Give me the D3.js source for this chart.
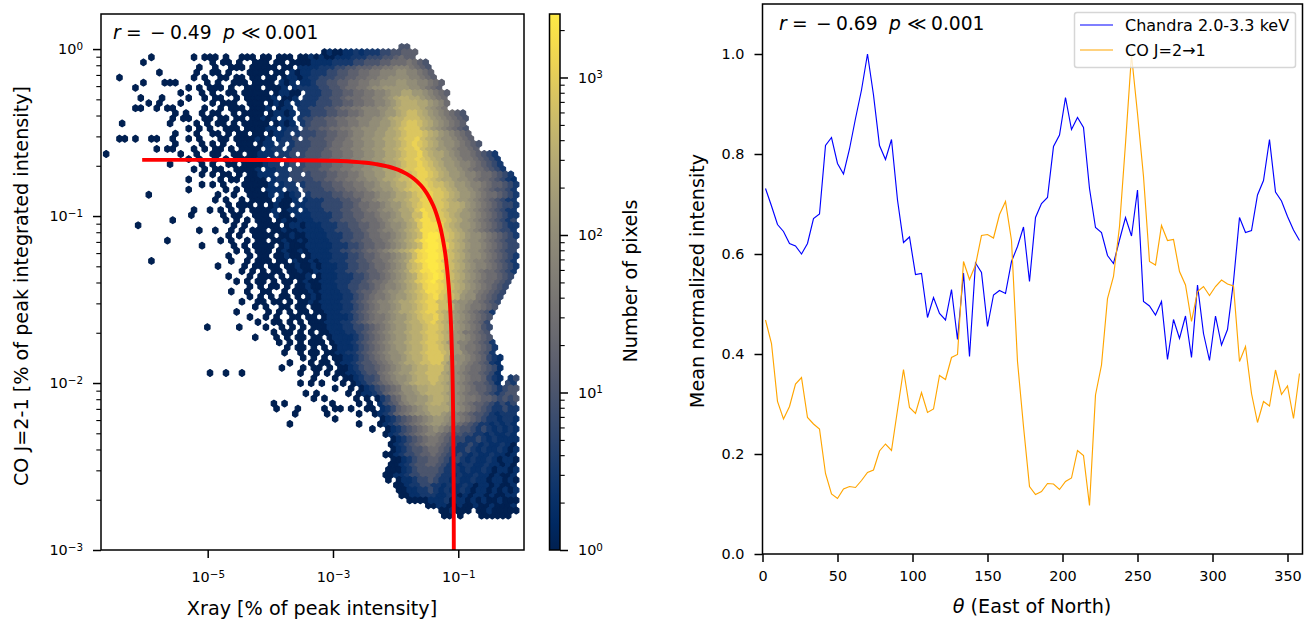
<!DOCTYPE html>
<html>
<head>
<meta charset="utf-8">
<script src="https://cdn.jsdelivr.net/npm/d3@7"></script>
<style>
  html, body { margin: 0; padding: 0; background: #fff; }
  svg { display: block; }
  text { font-family: "DejaVu Sans", sans-serif; fill: #000; }
  .domain, .tick line { stroke: #000; }
</style>
</head>
<body>
<svg id="chart" width="1310" height="622"></svg>
<script>
// per-degree profile, sampled every 4 deg
const angles = [2,6,10,14,18,22,26,30,34,38,42,46,50,54,58,62,66,70,74,78,82,86,90,94,98,102,106,110,114,118,122,126,130,134,138,142,146,150,154,158,162,166,170,174,178,182,186,190,194,198,202,206,210,214,218,222,226,230,234,238,242,246,250,254,258,262,266,270,274,278,282,286,290,294,298,302,306,310,314,318,322,326,330,334,338,342,346,350,354,358];
const chandra = [0.731,0.696,0.659,0.645,0.621,0.616,0.6,0.621,0.671,0.68,0.817,0.833,0.781,0.76,0.81,0.871,0.928,1.0,0.918,0.817,0.789,0.829,0.708,0.623,0.634,0.559,0.561,0.473,0.513,0.481,0.468,0.529,0.429,0.562,0.395,0.582,0.563,0.455,0.518,0.527,0.521,0.585,0.615,0.654,0.545,0.673,0.701,0.713,0.815,0.838,0.913,0.849,0.873,0.853,0.731,0.653,0.643,0.597,0.581,0.628,0.673,0.636,0.728,0.505,0.496,0.478,0.505,0.389,0.469,0.431,0.476,0.393,0.538,0.441,0.387,0.476,0.418,0.449,0.545,0.673,0.643,0.647,0.718,0.747,0.829,0.724,0.706,0.675,0.648,0.627];
const coLine = [0.468,0.421,0.305,0.27,0.295,0.34,0.353,0.273,0.26,0.25,0.161,0.12,0.111,0.13,0.135,0.133,0.147,0.163,0.168,0.206,0.22,0.207,0.288,0.369,0.293,0.281,0.323,0.283,0.29,0.357,0.349,0.393,0.399,0.585,0.549,0.578,0.637,0.639,0.632,0.679,0.705,0.627,0.385,0.255,0.135,0.119,0.125,0.141,0.14,0.129,0.145,0.152,0.207,0.197,0.097,0.318,0.378,0.511,0.555,0.655,0.821,0.998,0.881,0.755,0.585,0.578,0.657,0.627,0.629,0.565,0.538,0.465,0.525,0.535,0.517,0.535,0.548,0.54,0.536,0.385,0.415,0.321,0.263,0.305,0.296,0.368,0.319,0.336,0.271,0.361];

// red fit in the scatter panel
const fitX = [9e-7,1e-5,1e-4,1e-3,3e-3,5e-3,7.5e-3,0.01,0.0125,0.015,0.02,0.025,0.03,0.04,0.05,0.06,0.07,0.075,0.08,0.083,0.084,0.0849];
const fitY = [0.217,0.217,0.2167,0.2145,0.2094,0.2043,0.198,0.1916,0.1852,0.1788,0.1661,0.1534,0.1407,0.1152,0.0898,0.0644,0.0389,0.0262,0.0135,0.00585,0.00331,0.001];

// pixel count for each letter in hexRows
const countLevels = {a:1,b:2,c:3,d:6,e:10,f:16,g:26,h:40,i:65,j:100,k:150,l:250,m:350,n:550,o:800,p:1200,q:1700,r:2400};

// hexbin, top row first, spaces only group columns by ten
const hexRows = [
".......... .......... .......... .......... .......... ......ee.. .......... ........",
".......... .......... .......... .......... .abaabbcbc ccddeefff. .......... ........",
".........a .......a.a aa.a..aaa. aa.aaa.aab abaabbbccc dddeefgff. .......... ........",
".......a.. .......... a.aa.a..aa a.aa.aaaab bbbccccdde eeffggghgf e......... ........",
".......... ........a. .a..aaa.aa aaa.aa.bbb bcccddeeff fgghhiiihg fe........ ........",
".......... a......a.. aa.a...aaa a.aa.babbc ccddeeffgg hhiiijjiih gf........ ........",
"...a...... .......a.a ..aa.aa.aa .aa.abbabc cdddeeffgg hhiijjjjii hgf....... ........",
".......a.. .aaa.....a .a..aaa.aa aa.bab.bbc ddeeffgghh iijjjkkjji ihgf...... ........",
"......a... ......a.a. aaa.a..aaa .aaab.bccc cddeefgghh ijjkkkkkjj ihgf...... ........",
".......... ....a...a. a..aa.aaaa a.abbaa.cc cddeeffggh hiijkkllkk jihgf..... ........",
".......a.. .a....a..a .aa..a.aaa aab.aab.cc cddeefgggh hiijklmmll kjihg..... ........",
"........a. a...a..... a.aaa..aaa .abab.bccc dddeeffggh hiijklmmml lkjig..... ........",
"......aa.. a.aa.....a ..a.aaa.aa ab.abb.ccd ddeefgghhi iijjklmmmm lkjih..... ........",
".......... ...a.a..a. aa..a.aaaa .abbab.ccd ddeeffgghi iijkklmnnm lkjihgfe.. ........",
".......... ...a.aa..a a.aa.aa.aa bab.bb.cdd eeffgghhii ijjklmmnnn mlkjihgfe. ........",
"...a...... ..a....a.a .aa.a.aaaa a.abab.cde eeffgghhii jjkklmnoon mlkjihgf.. ........",
".......... ......a.a. a..aaa.aaa abb.bcc.de effgghhiij jjkklmnooo mlkjihgfe. ........",
".......... ...a...a.. aa.a.aa.aa .abbc.cddd eeffgghiij jkkllmnooo nmlkjihgf. ........",
"...aa.a..a a..a..a.a. ..aa.aaaab ab.bccd.de eeffgghiij jkkllmnoop nmlkjjihgf ........",
".......... ...a....a. a.a..aaa.a bb.c.cddde eefgghhiij jkkllmnopo nmlkjjihgf e.......",
".......... a.aa...a.a .aa.a.aaaa .bcc.cddde eefgghhiij jkkllmnoop nmlkkjihhg f.......",
"a......... ....a..a.. aa..aa.aab bb.ccd.dee effgghhiij jkkllmnoop nmllkjihhg fedc....",
".......... ......a.a. .a.a.aaaab b.cc.cddee effgghhiij jkkllmnoop onmlkkjihh gfedc...",
".......... ..a.....a. a..aa.aaaa bcc.cd.dee effgghhiij jkkllmnoop onmlkkjiih gfedc...",
".......... .......a.a .aa..aaaab .bbcc.ddee effgghhiij jkkllmnoop ponmlkkjih ggfedc..",
".......... ........a. a.aa.a.aab bb.ccdd.de eeffgghhij jkkllmnnop ponmlkkjii hggfedc.",
".......... ......a... ..a.aa.aaa a.bcc.dddd eeffgghhii jjkllmnnop ponmllkjji hggfedcb",
".......... ........a. a.a...aaaa ab.bcc.cdd deeffgghhi ijkklmmnop ponnmlkkji ihgffedc",
".......... ......a... ...a.a.aaa .bbb.cc.dd ddeeffgghh ijjkklmnoo ppoonmlkkj ihgfeedc",
"........a. .......... .a..a..aaa ab.babc.cd dddeeffggh hijjkllmno ppoonmlkkj ihggfedc",
".......... .......... .a.a..a.aa aa.baab.bc ccdddeeffh hijjkllmnn ppoonmlkkj ihgfedcc",
".......... .......... ...a.aaa.a .abaa.bbcc cddddeefgg hhijkklmno ppoonmmlkj ihgfeddc",
".......... .......a.. a.a.a.a.aa aab.abb.bc ccdddeeffg hhijjkllmo qpponmmlkj ihgfedcc",
".......... ......a... ..a.aa..aa a.baa.bbbc cccddeeffg ghiijkllnn qpponmlkkj ihgfedcc",
".......... ...a...... ...a.a.a.a aa.abaabbb cccddeeefg gghijkklmo qqpoonmlkj ihgfedcd",
"......a... .......... ....a.a..a aaa.abbabb bcccddeeff gghijjklmo qqqpnmlkkj ihgfedcc",
".......... ........a. .a..a.a.aa a.aabaabbb bbccdddeef gghiijklmn qqqponmlkj ihgfeddc",
".......... .......... ...a.a..aa aa.aabaabb bbcccddeef gghhijklmn qrrqonmlkj jihgfedc",
".......... ..a....... ..a.a..a.a a.aabaabab bbbccddeef fgghijklmo qrrqonmlkj jihgfedd",
".......... ........a. ....a.a.aa aa.abaaabb bbbcccddef fgghijklmn qrrqpnmlkj jihgfedd",
".......... .......... .....a.a.a aa.abaabab bbbccddeef gghijklmnp qrrqpnmlkj jihgfedd",
".......... .......... ...a...a.a a.aabaa.ab bbbcccddef fghhijklnp qrrqonmlkj jihgfedc",
".........a .......... ....a..a.a aa.aa.baab abbcccddee fgghijklnp qrrqonmlkj iihgfedc",
".......... .......... .a....a.aa .aa.aabaab abbbccddee fgghijkmno qrrqonmlkj iihgfedc",
".......... .......... ......a.a. a.aa.aabaa bbbbccddee ffghijklno qqrqonmlkj ihggfedc",
".......... .......... ...a...a.a aa.a.aaab. abbbcccdde ffghijklmo pqrqonmlkj ihggfed.",
".......... .......... .....a.a.a a.a.aa.aba abbbcccdde fgghijklmo pqrponmlkj ihggfed.",
".......... .......... .......a.a .aa.a.aaba abbbccddee fghiijklmn pqqponmlkj ihgfed..",
".......... .......... ....a..a.. aa..a.aaab abbbbccdef fghijjklmn oqqponmlkj ihgfed..",
".......... .......... .......a.a .a.aa.a.ab abbbbccdef ghhijkklmn opqonnmkjj hgfed...",
".......... .......... ......a..a a.aa.a.aab abbbbccdef ghiijkllmn oppnnmkjji hgfed...",
".......... .......... ........a. a..aa.aa.a abbbbccdef ghiijkllmn oppnnmkjih hgfe....",
".......... .......... .....a.... .a.a.a.aa. aabbbccdef ghiijkllmn oppnmlkjih gfec....",
".......... .......... .......a.. a.a..aa.aa .abbbbcdef ghhijkklmn oopnmlkjih gfe.....",
".......... .......... .........a ..aa.a.a.a aabbbccdef ghhijkklmm nopnmlkjih gfd.....",
".......... .........a .....a.... a..a.a.a.a aabbbccdde fghijkklmm noonmlkjih ged.....",
".......... .......... .......... ..a.aa.a.a .aabbbccde fghijkklmm noonmlkjhh gfe.....",
".......... .......... ........a. ..a.a.aa.a a.abbbbcde fghijkklmm noonmkkjih gfe.....",
".......... .......... .......... ...a.a.a.a aa.abbbcde fghijkklmm noonmkkiih gfec....",
".......... .......... .......... ....a.aa.a .a.abbbcde fghijkklmm noonmkkihh gfec....",
".......... .......... .......... ....a..a.a a.aabbccde fghijjklmm nooonmkkih gfec....",
".......... .......... .......... .......a.a .a.aabbcde fghijjklmm nooomkjjih gfdcb...",
".......... .......... .......... .....a...a .aa.abbcde efghijkllm nnoomkkjih gfecb...",
".......... .......... .......... ...a...a.a a.a.aabcde efghijkklm mnnnlkjihg gfedb...",
".......... .......... a..a..a... .......a.. a.a.aabbcd eeghijkklm mnnnlkjihg gfedb...",
".......... .......... .......... .........a ...a.aabcd deghijjklm mnnmlkjihg gfdcb.cd",
".......... .......... .......... .......a.a .a...a.abc defghijklm mmnmlkjihg ffedb.dc",
".......... .......... .......... .......... ...a..a.ab cdefghjjkl lmmmlkjihg ffedcdee",
".......... .......... .......... ........a. a.....a.ab bcdfghijjk lmmmlkjihg gfedcdee",
".......... .......... .......... .........a .a.....a.a .acdfgijjk klmmlkjihh gffedede",
".......... .......... .......... ..a.a..... ...a....a. a.bdefhijk klmmlkjihg ffedcdcd",
".......... .......... .......... ..a...a... .a.aa.a..a a.bcdfghij kllllkjihg fedccdcc",
".......... .......... .......... ......a... ..a.....a. .abcdfghij jkllkjihgf eedcbccc",
".......... .......... .......... .......... ...a...... ..abcdefgh ijkkjiihgf edccbccb",
".......... .......... .......... .....a.... ........a. ..abcdefgh ijkkjihgfe dccbcbcb",
".......... .......... .......... .......... .......... a..abcdefg hijihgfeed cdcbcbcb",
".......... .......... .......... .......... .......... ...abcdefg hiihgfeedd ccbcbbcb",
".......... .......... .......... .......... .......... ....abcdef ghhgfeddcc dcbcbbbb",
".......... .......... .......... .......... .......... ....abcdef ghhgfedccd cbcbbcba",
".......... .......... .......... .......... .......... ....abcdee fggfedccdc bcbbcbab",
".......... .......... .......... .......... .......... ...aabcdde ffgfedcdcb cbbcbbab",
".......... .......... .......... .......... .......... ....aabcde effedcdcbc bbcbabba",
".......... .......... .......... .......... .......... ....aabcde effedccbcc bbcbbaba",
".......... .......... .......... .......... .......... ...aaabcde eeedcccbcb bcbabbab",
".......... .......... .......... .......... .......... ...aabbcdd eeedccbcbb cbbabaab",
".......... .......... .......... .......... .......... ...a.abbcd dedccbcbbc bbabbaba",
".......... .......... .......... .......... .......... .....aabcc ddccbcbbcb abbabaab",
".......... .......... .......... .......... .......... .....aabbc cdcbcbbcba bbababab",
".......... .......... .......... .......... .......... ......aabb cccbbcbaba bbabaabb",
".......... .......... .......... .......... .......... .......aaa abbbcabbab abaabaaa",
".......... .......... .......... .......... .......... .......... .aabbaabaa baabaaab",
".......... .......... .......... .......... .......... .......... ...aabaaa. aabaaaaa",
".......... .......... .......... .......... .......... .......... ....aa.a.. .aaaaaa."
];

// grid of the hexbin, in decades
const hexLogX0 = -6.663;
const hexLogDx = 0.085;
const hexLogY0 = 0.012;
const hexLogDy = 0.0305;

const xLogTicks = [1e-5, 1e-3, 1e-1];
const yLogTicks = [1e-3, 1e-2, 1e-1, 1];
const cbarTicks = [1, 10, 100, 1000];
const thetaTicks = [0, 50, 100, 150, 200, 250, 300, 350];
const meanTicks = [0, 0.2, 0.4, 0.6, 0.8, 1.0];

const minors = (lo, hi) => {
  const out = [];
  for (let e = lo; e <= hi; e++) {
    for (let m = 2; m < 10; m++) out.push(m * Math.pow(10, e));
  }
  return out;
};

const svg = d3.select('#chart');

const left = {x0: 101, x1: 524, y0: 14, y1: 550};
const cbar = {x0: 549.5, x1: 560, y0: 14, y1: 550};
const right = {x0: 762.5, x1: 1302.5, y0: 4, y1: 554};

const tickFont = 14.4;
const labelFont = 19.2;
const majorLen = 8;
const minorLen = 4.7;

const x = d3.scaleLog().domain([Math.pow(10, -6.703), Math.pow(10, 0.049)]).range([left.x0, left.x1]);
const y = d3.scaleLog().domain([1e-3, Math.pow(10, 0.21)]).range([left.y1, left.y0]);
const cVal = d3.scaleLog().domain([1, 2530]).range([cbar.y1, cbar.y0]);
const color = d3.scaleSequentialLog(d3.interpolateCividis).domain([1, 2530]);
const xTheta = d3.scaleLinear().domain([0, 360]).range([right.x0, right.x1]);
const yMean = d3.scaleLinear().domain([0, 1.1]).range([right.y1, right.y0]);

const superLabel = (sel, fs) => {
  sel.selectAll('.tick text').each(function (d) {
    const t = d3.select(this);
    t.text('').style('font-size', fs + 'px');
    t.append('tspan').text('10');
    t.append('tspan').attr('dy', '-0.42em').style('font-size', (fs * 0.72) + 'px')
      .text(String(Math.round(Math.log10(d))).replace('-', '\u2212'));
  });
};

const styleAxis = (g, lw) => {
  g.select('.domain').remove();
  g.selectAll('.tick line').attr('stroke-width', lw);
};

// hexbin
const defs = svg.append('defs');
defs.append('clipPath').attr('id', 'clipLeft').append('rect')
  .attr('x', left.x0).attr('y', left.y0)
  .attr('width', left.x1 - left.x0).attr('height', left.y1 - left.y0);

const cells = [];
hexRows.forEach((row, r) => {
  row.replace(/ /g, '').split('').forEach((ch, c) => {
    if (ch === '.') return;
    cells.push({
      r,
      logX: hexLogX0 + (c + (r % 2 ? 0.5 : 0)) * hexLogDx,
      logY: hexLogY0 - r * hexLogDy,
      count: countLevels[ch]
    });
  });
});
// same draw order as the two lattices of a hexbin
cells.sort((a, b) => (a.r % 2) - (b.r % 2));

const hexPath = d => {
  const lx = d.logX, ly = d.logY, h = hexLogDx / 2, v = hexLogDy * 2 / 3, s = hexLogDy / 3;
  const p = (a, b) => `${x(Math.pow(10, a)).toFixed(2)},${y(Math.pow(10, b)).toFixed(2)}`;
  return `M${p(lx, ly + v)}L${p(lx + h, ly + s)}L${p(lx + h, ly - s)}L${p(lx, ly - v)}L${p(lx - h, ly - s)}L${p(lx - h, ly + s)}Z`;
};

svg.append('g').attr('clip-path', 'url(#clipLeft)')
  .selectAll('path').data(cells).enter().append('path')
  .attr('d', hexPath)
  .attr('fill', d => color(d.count))
  .attr('stroke', d => color(d.count))
  .attr('stroke-width', 1.2)
  .attr('stroke-linejoin', 'round');

// fit curve
const fitPts = fitX.map((v, i) => [v, fitY[i]]);
svg.append('path').datum(fitPts)
  .attr('clip-path', 'url(#clipLeft)')
  .attr('fill', 'none').attr('stroke', '#ff0000').attr('stroke-width', 3.9)
  .attr('d', d3.line().x(d => x(d[0])).y(d => y(d[1])).curve(d3.curveMonotoneY));

// left axes
const gLeftY = svg.append('g').attr('transform', `translate(${left.x0},0)`)
  .call(d3.axisLeft(y).tickValues(yLogTicks).tickSize(majorLen).tickPadding(10));
styleAxis(gLeftY, 1.5);
superLabel(gLeftY, tickFont);
const gLeftYm = svg.append('g').attr('transform', `translate(${left.x0},0)`)
  .call(d3.axisLeft(y).tickValues(minors(-3, 0).filter(v => v <= y.domain()[1])).tickSize(minorLen).tickFormat(''));
styleAxis(gLeftYm, 1.1);
const gLeftX = svg.append('g').attr('transform', `translate(0,${left.y1})`)
  .call(d3.axisBottom(x).tickValues(xLogTicks).tickSize(majorLen).tickPadding(14));
styleAxis(gLeftX, 1.5);
superLabel(gLeftX, tickFont);

svg.append('rect')
  .attr('x', left.x0).attr('y', left.y0)
  .attr('width', left.x1 - left.x0).attr('height', left.y1 - left.y0)
  .attr('fill', 'none').attr('stroke', '#000').attr('stroke-width', 1.5);

// colorbar
const grad = defs.append('linearGradient').attr('id', 'cbarGrad')
  .attr('x1', 0).attr('x2', 0).attr('y1', 1).attr('y2', 0);
d3.range(0, 1.0001, 0.05).forEach(t => {
  grad.append('stop').attr('offset', t).attr('stop-color', d3.interpolateCividis(t));
});
svg.append('rect')
  .attr('x', cbar.x0).attr('y', cbar.y0)
  .attr('width', cbar.x1 - cbar.x0).attr('height', cbar.y1 - cbar.y0)
  .attr('fill', 'url(#cbarGrad)').attr('stroke', '#000').attr('stroke-width', 1.5);
const gCbar = svg.append('g').attr('transform', `translate(${cbar.x1},0)`)
  .call(d3.axisRight(cVal).tickValues(cbarTicks).tickSize(majorLen).tickPadding(10));
styleAxis(gCbar, 1.5);
superLabel(gCbar, tickFont);
const gCbarM = svg.append('g').attr('transform', `translate(${cbar.x1},0)`)
  .call(d3.axisRight(cVal).tickValues(minors(0, 3).filter(v => v <= 2530)).tickSize(minorLen).tickFormat(''));
styleAxis(gCbarM, 1.1);

// right axes
const gRightX = svg.append('g').attr('transform', `translate(0,${right.y1})`)
  .call(d3.axisBottom(xTheta).tickValues(thetaTicks).tickSize(majorLen).tickPadding(9).tickFormat(d3.format('d')));
styleAxis(gRightX, 1.5);
gRightX.selectAll('text').style('font-size', tickFont + 'px');
const gRightY = svg.append('g').attr('transform', `translate(${right.x0},0)`)
  .call(d3.axisLeft(yMean).tickValues(meanTicks).tickSize(majorLen).tickPadding(10).tickFormat(d3.format('.1f')));
styleAxis(gRightY, 1.5);
gRightY.selectAll('text').style('font-size', tickFont + 'px');

const lineOf = d3.line().x((d, i) => xTheta(angles[i])).y(d => yMean(d));
svg.append('path').datum(chandra).attr('fill', 'none').attr('stroke', '#0000ff').attr('stroke-width', 1.15).attr('d', lineOf);
svg.append('path').datum(coLine).attr('fill', 'none').attr('stroke', '#ffa500').attr('stroke-width', 1.15).attr('d', lineOf);

svg.append('rect')
  .attr('x', right.x0).attr('y', right.y0)
  .attr('width', right.x1 - right.x0).attr('height', right.y1 - right.y0)
  .attr('fill', 'none').attr('stroke', '#000').attr('stroke-width', 1.5);

// legend
svg.append('rect')
  .attr('x', 1074.5).attr('y', 12.5).attr('width', 221).attr('height', 55).attr('rx', 2.5)
  .attr('fill', '#fff').attr('fill-opacity', 0.8)
  .attr('stroke', '#ccc').attr('stroke-opacity', 0.8).attr('stroke-width', 1.5);
[['Chandra 2.0-3.3 keV', '#0000ff', 25], ['CO J=2\u21921', '#ffa500', 50]].forEach(([txt, col, ly]) => {
  svg.append('line').attr('x1', 1080).attr('x2', 1113).attr('y1', ly).attr('y2', ly)
    .attr('stroke', col).attr('stroke-width', 1.15);
  svg.append('text').attr('x', 1125).attr('y', ly + 6).style('font-size', '16px').text(txt);
});

// annotations and titles
const statText = (tx, ty, val) => {
  const part = (dx, txt, italic) => svg.append('text').attr('x', tx + dx).attr('y', ty)
    .style('font-size', '18.7px').style('font-style', italic ? 'italic' : 'normal').text(txt);
  part(0, 'r', true);
  part(13, '=');
  part(37, '\u2212');
  part(57, val);
  part(110, 'p', true);
  part(128, '\u226A');
  part(152, '0.001');
};
statText(113, 39, '0.49');
statText(779, 30, '0.69');

const label = (tx, ty, txt, rot) => svg.append('text')
  .attr('text-anchor', 'middle')
  .attr('transform', `translate(${tx},${ty})` + (rot ? ' rotate(-90)' : ''))
  .style('font-size', labelFont + 'px').text(txt);

label(312, 615, 'Xray [% of peak intensity]');
label(28, 286, 'CO J=2-1 [% of peak integrated intensity]', true);
label(637, 281, 'Number of pixels', true);
label(704, 281, 'Mean normalized intensity', true);
const thetaLabel = label(1032, 613, '');
thetaLabel.append('tspan').style('font-style', 'italic').text('\u03b8');
thetaLabel.append('tspan').text(' (East of North)');
</script>
</body>
</html>
